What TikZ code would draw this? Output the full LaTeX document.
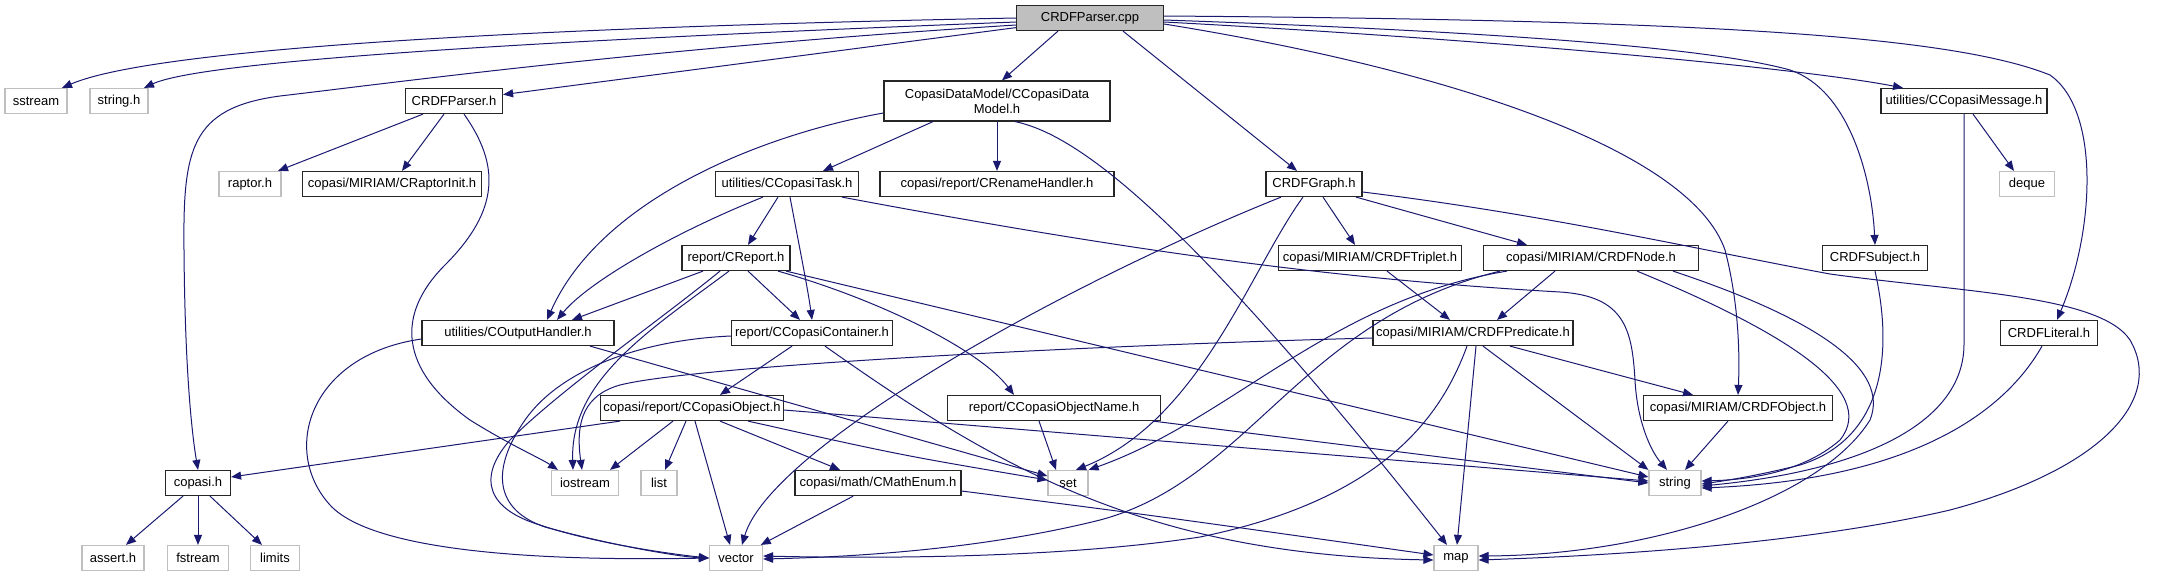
\documentclass[tikz,border=0pt]{standalone}
\usepackage{fontspec}
\setmainfont{Liberation Sans}
\usepackage{xcolor}
\usepackage{tikz}
\usetikzlibrary{arrows.meta}
\definecolor{edgeblue}{HTML}{191970}
\definecolor{sysgrey}{HTML}{BFBFBF}

\begin{document}
\begin{tikzpicture}[
  x=1pt, y=-1pt,
  every node/.style={align=center, font=\fontsize{13}{15}\selectfont},
  box/.style={draw=black!85, line width=1.2pt, fill=white, minimum height=25pt,
              inner xsep=2pt, inner ysep=3pt},
  sysbox/.style={box, draw=sysgrey},
  mainbox/.style={box, fill=sysgrey},
  arr/.style={draw=edgeblue, line width=1pt, -{Triangle[length=10pt, width=8pt]}},
]
  \useasboundingbox (0,0) rectangle (2171,576);

  % Row 1: the source file and what it pulls in directly
  \node[mainbox, minimum width=147pt] (cpp)   at (1090,18)  {CRDFParser.cpp};
  \node[sysbox, minimum width=62pt]  (sstr)  at (36,101)   {sstream};
  \node[sysbox, minimum width=58pt]  (strh)  at (119,101)  {string.h};
  \node[box, minimum width=97pt]     (parh)  at (454,101)  {CRDFParser.h};
  \node[box, minimum width=226pt, minimum height=40pt] (dm) at (997,101) {CopasiDataModel/CCopasiData\\Model.h};
  \node[box, minimum width=166pt]    (msg)   at (1964,101) {utilities/CCopasiMessage.h};

  % Row 2
  \node[sysbox, minimum width=62pt]  (rap)   at (250,184)  {raptor.h};
  \node[box, minimum width=179pt]    (rapi)  at (392,184)  {copasi/MIRIAM/CRaptorInit.h};
  \node[box, minimum width=143pt]    (task)  at (787,184)  {utilities/CCopasiTask.h};
  \node[box, minimum width=234pt]    (ren)   at (997,184)  {copasi/report/CRenameHandler.h};
  \node[box, minimum width=96pt]     (graph) at (1314,184) {CRDFGraph.h};
  \node[sysbox, minimum width=55pt]  (deq)   at (2027,184) {deque};

  % Row 3
  \node[box, minimum width=108pt]    (rep)   at (736,258)  {report/CReport.h};
  \node[box, minimum width=183pt]    (trip)  at (1370,258) {copasi/MIRIAM/CRDFTriplet.h};
  \node[box, minimum width=215pt]    (rnode) at (1591,258) {copasi/MIRIAM/CRDFNode.h};
  \node[box, minimum width=105pt]    (subj)  at (1875,258) {CRDFSubject.h};

  % Row 4
  \node[box, minimum width=192pt]    (outh)  at (518,333)  {utilities/COutputHandler.h};
  \node[box, minimum width=161pt]    (cont)  at (812,333)  {report/CCopasiContainer.h};
  \node[box, minimum width=200pt]    (pred)  at (1473,333) {copasi/MIRIAM/CRDFPredicate.h};
  \node[box, minimum width=97pt]     (lit)   at (2049,333) {CRDFLiteral.h};

  % Row 5
  \node[box, minimum width=183pt]    (obj)   at (692,408)  {copasi/report/CCopasiObject.h};
  \node[box, minimum width=213pt]    (objn)  at (1054,408) {report/CCopasiObjectName.h};
  \node[box, minimum width=189pt]    (robj)  at (1738,408) {copasi/MIRIAM/CRDFObject.h};

  % Row 6
  \node[box, minimum width=65pt]     (cop)   at (198,483)  {copasi.h};
  \node[sysbox, minimum width=67pt]  (ios)   at (585,483)  {iostream};
  \node[sysbox, minimum width=36pt]  (lst)   at (659,483)  {list};
  \node[box, minimum width=166pt]    (menum) at (878,483)  {copasi/math/CMathEnum.h};
  \node[sysbox, minimum width=40pt]  (setn)  at (1068,483) {set};
  \node[sysbox, minimum width=52pt]  (str)   at (1675,483) {string};

  % Row 7: system headers at the bottom
  \node[sysbox, minimum width=62pt]  (asrt)  at (113,558)  {assert.h};
  \node[sysbox, minimum width=61pt]  (fstr)  at (198,558)  {fstream};
  \node[sysbox, minimum width=49pt]  (lim)   at (275,558)  {limits};
  \node[sysbox, minimum width=53pt]  (vec)   at (736,558)  {vector};
  \node[sysbox, minimum width=44pt]  (mapn)  at (1456,558) {map};

  % Includes of CRDFParser.cpp
  \draw[arr] (cpp.west) .. controls (500,28) and (150,50) .. ([xshift=26pt]sstr.north);
  \draw[arr] ([yshift=-4pt]cpp.west) .. controls (500,42) and (200,62) .. ([xshift=25pt]strh.north);
  \draw[arr] (cpp) -- (parh);
  \draw[arr] ([yshift=-7pt]cpp.west) .. controls (650,48) and (400,82) .. (280,96)
             .. controls (190,108) and (183,150) .. (184,250)
             .. controls (185,380) and (193,440) .. (cop.north);
  \draw[arr] ([xshift=-32pt]cpp.south) -- ([xshift=5pt]dm.north);
  \draw[arr] ([xshift=33pt]cpp.south) -- ([xshift=-17pt]graph.north);
  \draw[arr] ([yshift=-4pt]cpp.east) .. controls (1500,40) and (1800,68) .. ([xshift=-61pt]msg.north);
  \draw[arr] ([yshift=-2pt]cpp.east) .. controls (1450,30) and (1700,45) .. (1790,70)
             .. controls (1850,90) and (1872,180) .. (subj.north);
  \draw[arr] ([yshift=2pt]cpp.east) .. controls (1700,20) and (1950,35) .. (2050,75)
             .. controls (2100,110) and (2095,230) .. ([xshift=8pt]lit.north);
  \draw[arr] ([yshift=-6pt]cpp.east) .. controls (1450,70) and (1690,150) .. (1725,250)
             .. controls (1738,300) and (1740,350) .. (robj.north);

  % CRDFParser.h
  \draw[arr] ([xshift=-31pt]parh.south) -- ([xshift=28pt]rap.north);
  \draw[arr] ([xshift=-10pt]parh.south) -- ([xshift=10pt]rapi.north);
  \draw[arr] ([xshift=10pt]parh.south) .. controls (500,165) and (500,210) .. (445,265)
             .. controls (395,315) and (400,370) .. (470,420)
             .. controls (510,445) and (540,458) .. ([xshift=-27pt]ios.north);

  % CCopasiDataModel.h
  \draw[arr] ([xshift=-64pt]dm.south) -- ([xshift=36pt]task.north);
  \draw[arr] (dm) -- (ren);
  \draw[arr] ([yshift=-12pt]dm.west) .. controls (760,135) and (600,200) .. ([xshift=29pt]outh.north);
  \draw[arr] ([xshift=18pt]dm.south) .. controls (1080,135) and (1190,220) .. ([xshift=-9pt]mapn.north);

  % CCopasiTask.h
  \draw[arr] ([xshift=-9pt]task.south) -- ([xshift=12pt]rep.north);
  \draw[arr] ([xshift=-24pt]task.south) .. controls (680,230) and (590,280) .. ([xshift=39pt]outh.north);
  \draw[arr] ([xshift=3pt]task.south) .. controls (800,250) and (808,290) .. (cont.north);
  \draw[arr] ([xshift=55pt]task.south) .. controls (1150,255) and (1350,280) .. (1560,292)
             .. controls (1625,296) and (1632,330) .. (1635,380)
             .. controls (1637,420) and (1650,450) .. ([xshift=-8pt]str.north);

  % CReport.h
  \draw[arr] ([xshift=-33pt]rep.south) -- ([xshift=54pt]outh.north);
  \draw[arr] ([xshift=12pt]rep.south) -- ([xshift=-12pt]cont.north);
  \draw[arr] ([xshift=-7pt]rep.south) .. controls (650,330) and (570,380) .. ([xshift=-12pt]ios.north);
  \draw[arr] ([xshift=-16pt]rep.south) .. controls (660,320) and (560,390) .. (510,440)
             .. controls (475,480) and (490,510) .. (540,525)
             .. controls (600,545) and (680,555) .. (vec.west);
  \draw[arr] ([xshift=42pt]rep.south) .. controls (880,300) and (980,350) .. ([xshift=-40pt]objn.north);
  \draw[arr] ([xshift=50pt]rep.south) -- ([yshift=6pt]str.west);

  % COutputHandler.h
  \draw[arr] ([yshift=-6pt]outh.west) .. controls (310,355) and (280,450) .. (330,505)
             .. controls (380,560) and (600,560) .. (vec.west);
  \draw[arr] ([xshift=72pt]outh.south) -- ([yshift=7pt]setn.west);

  % CCopasiContainer.h
  \draw[arr] ([xshift=-20pt]cont.south) -- ([xshift=28pt]obj.north);
  \draw[arr] ([xshift=13pt]cont.south) .. controls (1000,470) and (1150,555) .. ([yshift=-2pt]mapn.west);
  \draw[arr] ([yshift=-3pt]cont.west) .. controls (640,340) and (560,370) .. (525,420)
             .. controls (490,470) and (495,510) .. (545,527)
             .. controls (610,545) and (680,557) .. (vec.west);

  % CCopasiObject.h
  \draw[arr] ([xshift=-72pt]obj.south) -- ([yshift=6pt]cop.east);
  \draw[arr] ([xshift=-19pt]obj.south) -- ([xshift=25pt]ios.north);
  \draw[arr] ([xshift=-6pt]obj.south) -- ([xshift=6pt]lst.north);
  \draw[arr] ([xshift=3pt]obj.south) -- ([xshift=-6pt]vec.north);
  \draw[arr] ([xshift=28pt]obj.south) -- ([xshift=-38pt]menum.north);
  \draw[arr] ([xshift=56pt]obj.south) .. controls (900,455) .. ([yshift=3pt]setn.west);
  \draw[arr] ([yshift=-2pt]obj.east) -- ([yshift=2pt]str.west);

  % CMathEnum.h and CCopasiObjectName.h
  \draw[arr] (menum) -- (vec);
  \draw[arr] ([yshift=-8pt]menum.east) .. controls (1150,515) .. ([yshift=3pt]mapn.west);
  \draw[arr] ([xshift=-15pt]objn.south) -- ([xshift=-12pt]setn.north);
  \draw[arr] ([xshift=-8pt]objn.south east) -- (str.west);

  % CRDFGraph.h
  \draw[arr] ([xshift=-33pt]graph.south) .. controls (1050,290) and (770,450) .. ([xshift=6pt]vec.north);
  \draw[arr] ([xshift=-11pt]graph.south) .. controls (1250,270) and (1200,420) .. ([xshift=8pt]setn.north);
  \draw[arr] ([xshift=9pt]graph.south) -- ([xshift=-15pt]trip.north);
  \draw[arr] ([xshift=42pt]graph.south) -- ([xshift=-64pt]rnode.north);
  \draw[arr] ([yshift=-8pt]graph.east) .. controls (1550,215) and (1700,250) .. (1830,274)
             .. controls (1960,292) and (2100,295) .. (2130,340)
             .. controls (2165,400) and (2100,470) .. (1950,510)
             .. controls (1800,545) and (1600,556) .. ([yshift=-2pt]mapn.east);

  % CRDFTriplet.h and CRDFNode.h
  \draw[arr] ([xshift=17pt]trip.south) -- ([xshift=-23pt]pred.north);
  \draw[arr] ([xshift=-36pt]rnode.south) -- ([xshift=24pt]pred.north);
  \draw[arr] ([xshift=-84pt]rnode.south) .. controls (1330,300) and (1230,420) .. (setn.north east);
  \draw[arr] ([xshift=-91pt]rnode.south) .. controls (1300,320) and (1250,480) .. (1100,520)
             .. controls (980,550) and (850,557) .. ([yshift=-1pt]vec.east);
  \draw[arr] ([xshift=46pt]rnode.south) .. controls (1780,330) and (1880,390) .. (1840,440)
             .. controls (1800,475) and (1740,480) .. ([yshift=2pt]str.east);
  \draw[arr] ([xshift=82pt]rnode.south) .. controls (1820,320) and (1890,370) .. (1870,420)
             .. controls (1820,500) and (1650,555) .. ([yshift=2pt]mapn.east);

  % CRDFPredicate.h
  \draw[arr] ([yshift=-5pt]pred.west) .. controls (1100,345) and (700,365) .. (620,385)
             .. controls (585,395) and (575,420) .. ([xshift=-3pt]ios.north);
  \draw[arr] ([xshift=-6pt]pred.south) .. controls (1440,420) and (1380,500) .. (1200,537)
             .. controls (1050,560) and (850,558) .. ([yshift=2pt]vec.east);
  \draw[arr] ([xshift=3pt]pred.south) -- ([xshift=1pt]mapn.north);
  \draw[arr] ([xshift=10pt]pred.south) -- (str.north west);
  \draw[arr] ([xshift=37pt]pred.south) -- ([xshift=-45pt]robj.north);

  % right hand side into string
  \draw[arr] (subj.south) .. controls (1895,360) and (1880,440) .. (1800,465)
             .. controls (1760,475) and (1730,480) .. ([yshift=-1pt]str.east);
  \draw[arr] (msg.south) -- ++(0,230) .. controls +(0,76) and (1870,470) .. ([yshift=-3pt]str.east);
  \draw[arr] ([xshift=9pt]msg.south) -- ([xshift=-13pt]deq.north);
  \draw[arr] ([xshift=-7pt]lit.south) .. controls (2000,420) and (1900,480) .. ([yshift=-5pt]str.east);
  \draw[arr] ([xshift=-10pt]robj.south) -- ([xshift=10pt]str.north);

  % copasi.h
  \draw[arr] ([xshift=-15pt]cop.south) -- ([xshift=13pt]asrt.north);
  \draw[arr] (cop) -- (fstr);
  \draw[arr] ([xshift=12pt]cop.south) -- ([xshift=-13pt]lim.north);
\end{tikzpicture}
\end{document}
